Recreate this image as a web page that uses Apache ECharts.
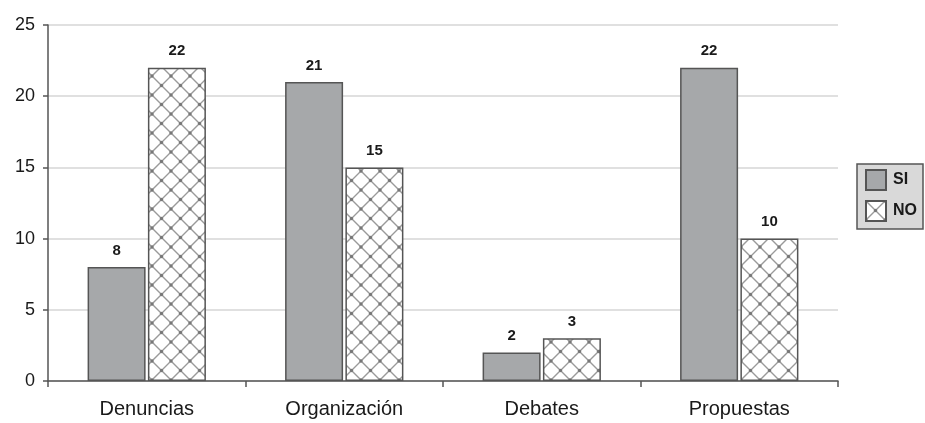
<!DOCTYPE html>
<html>
<head>
<meta charset="utf-8">
<script src="https://cdn.jsdelivr.net/npm/echarts@6/dist/echarts.min.js"></script>
<style>
  html, body { margin: 0; padding: 0; background: #fff; }
  #chart { width: 925px; height: 423px; }
</style>
</head>
<body>
<div id="chart"></div>
<script>
// Categories and counts per answer
const categories = ['Denuncias', 'Organización', 'Debates', 'Propuestas'];
const siValues = [8, 21, 2, 22];
const noValues = [22, 15, 3, 10];
const yTicks = { min: 0, max: 25, interval: 5 };

// Cross-hatch tile for the "NO" bars
function makeHatch() {
  const size = 19;
  const c = document.createElement('canvas');
  c.width = size; c.height = size;
  const ctx = c.getContext('2d');
  ctx.fillStyle = '#ffffff';
  ctx.fillRect(0, 0, size, size);
  ctx.strokeStyle = '#9a9a9a';
  ctx.lineWidth = 1.4;
  ctx.beginPath();
  ctx.moveTo(0, 0); ctx.lineTo(size, size);
  ctx.moveTo(size, 0); ctx.lineTo(0, size);
  ctx.stroke();
  // darker knots where the lines cross
  ctx.fillStyle = '#777777';
  [[0, 0], [size, 0], [0, size], [size, size], [size / 2, size / 2]].forEach(p => {
    ctx.beginPath(); ctx.arc(p[0], p[1], 1.7, 0, Math.PI * 2); ctx.fill();
  });
  return { image: c, repeat: 'repeat' };
}

const font = 'Liberation Sans, Arial, Helvetica, sans-serif';
const chart = echarts.init(document.getElementById('chart'), null, { renderer: 'canvas' });

const labelStyle = {
  show: true,
  position: 'top',
  distance: 9,
  fontFamily: font,
  fontSize: 15,
  fontWeight: 'bold',
  color: '#1a1a1a'
};

chart.setOption({
  animation: false,
  backgroundColor: '#ffffff',
  grid: { left: 48, right: 87, top: 25, bottom: 42 },
  legend: {
    orient: 'vertical',
    left: 857,
    top: 164,
    padding: [5, 6, 7, 8],
    itemWidth: 20,
    itemHeight: 20,
    itemGap: 9,
    backgroundColor: '#d9d9d9',
    borderColor: '#555',
    borderWidth: 1.5,
    borderRadius: 0,
    icon: 'rect',
    textStyle: { fontFamily: font, fontSize: 16, fontWeight: 'bold', color: '#1a1a1a', padding: [0, 0, 0, 2] },
    data: ['SI', 'NO']
  },
  xAxis: {
    type: 'category',
    data: categories,
    axisLine: { lineStyle: { color: '#555', width: 1.5 } },
    axisTick: { show: true, length: 6, interval: 0, lineStyle: { color: '#555', width: 1.5 } },
    axisLabel: { margin: 18, fontFamily: font, fontSize: 20, color: '#1a1a1a' }
  },
  yAxis: {
    type: 'value',
    min: yTicks.min,
    max: yTicks.max,
    interval: yTicks.interval,
    axisLine: { show: true, lineStyle: { color: '#555', width: 1.5 } },
    axisTick: { show: true, length: 5, lineStyle: { color: '#555', width: 1.5 } },
    axisLabel: { margin: 13, fontFamily: font, fontSize: 18, color: '#1a1a1a' },
    splitLine: { show: true, lineStyle: { color: '#d6d6d6', width: 1.5 } }
  },
  series: [
    {
      name: 'SI',
      type: 'bar',
      data: siValues,
      barWidth: 58,
      barGap: '4%',
      itemStyle: { color: '#a6a8aa', borderColor: '#555', borderWidth: 1.5 },
      label: labelStyle
    },
    {
      name: 'NO',
      type: 'bar',
      data: noValues,
      barWidth: 58,
      barGap: '4%',
      itemStyle: { color: makeHatch(), borderColor: '#555', borderWidth: 1.5 },
      label: labelStyle
    }
  ]
});
</script>
</body>
</html>
